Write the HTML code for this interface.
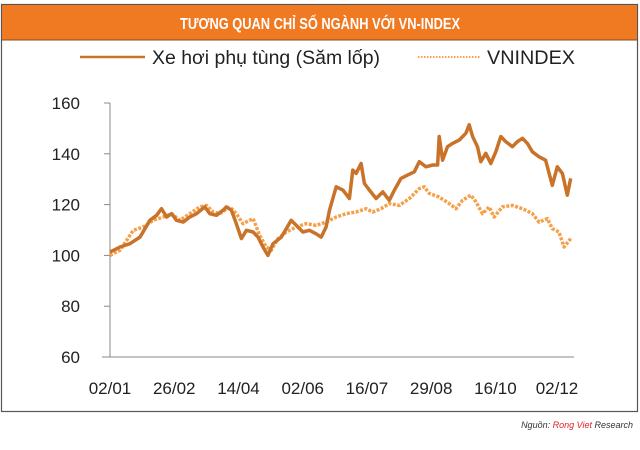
<!DOCTYPE html>
<html><head><meta charset="utf-8"><style>
body{margin:0;background:#fff;}
#wrap{position:relative;width:640px;height:445px;background:#fff;font-family:"Liberation Sans",sans-serif;}
</style></head><body>
<div id="wrap">
<svg id="chart" width="640" height="445" viewBox="0 0 640 445">
  <rect x="1.5" y="4.5" width="636" height="407" fill="#fff" stroke="#555" stroke-width="1.2"/>
  <rect x="2" y="5" width="635" height="35" fill="#f07a22"/>
  <line x1="2" y1="40" x2="637" y2="40" stroke="#8a4a1a" stroke-width="1"/>
  <text x="320" y="29" text-anchor="middle" font-size="16" font-weight="bold" fill="#fff" font-family="Liberation Sans Narrow, Liberation Sans, sans-serif" textLength="280" lengthAdjust="spacingAndGlyphs">TƯƠNG QUAN CHỈ SỐ NGÀNH VỚI VN-INDEX</text>
  <g>
    <line x1="80" y1="57" x2="145" y2="57" stroke="#c9732a" stroke-width="2.5"/>
    <text x="152" y="64" font-size="19" fill="#222" textLength="228" lengthAdjust="spacingAndGlyphs">Xe hơi phụ tùng (Săm lốp)</text>
    <line x1="418" y1="57" x2="480" y2="57" stroke="#f5a04a" stroke-width="2" stroke-dasharray="1.5 1.5"/>
    <text x="487" y="64" font-size="19" fill="#222" textLength="88" lengthAdjust="spacingAndGlyphs">VNINDEX</text>
  </g>
  <g id="axes"></g>
  <g id="series"></g>
  <text x="633" y="428" text-anchor="end" font-size="9" font-style="italic" fill="#333">Nguồn: <tspan fill="#e31e24">Rong Viet</tspan> Research</text>
</svg>
</div>
<script>
const yTicks=[60,80,100,120,140,160];
const xTickLabels=["02/01","26/02","14/04","02/06","16/07","29/08","16/10","02/12"];
const xTickDays=[0,48,96,144,192,240,288,334];
const sectorDays=[0,7.5,14.9,22.4,29.8,34.8,38.5,42.3,46,49.7,54.7,59.6,64.6,70.8,74.6,79.5,84.5,87,90.7,94.4,98.2,101.9,106.9,110.6,114.3,118,121.8,128,131.7,135.4,139.2,144.1,149.1,154,157.8,161.5,164,169,174,178.9,181.4,183.9,187.6,190.1,193.8,198.8,203.8,208.7,212.5,217.4,222.4,227.4,231.1,236.1,241.1,244.8,246,248.5,252.2,256,260.9,265.9,268.4,270.9,274.6,277.1,280.8,284.5,288.3,292,295.7,300.7,304.4,308.2,311.9,315.6,320.6,325.5,330.5,334.2,338,341.7,344.2];
const sectorValues=[101.3,103.3,104.6,107.2,113.8,115.8,118.4,115.1,116.4,113.8,113.1,115.1,116.4,119.1,116.4,115.8,117.8,119.1,117.8,112.5,106.6,109.9,109.2,107.2,103.3,100,104.6,107.2,110.5,113.8,111.8,109.2,109.9,108.5,107.2,111.2,117.8,127,125.7,122.4,133.6,132.3,136.2,128.3,125.7,122.4,125,121.7,125.7,130.3,131.6,132.9,136.9,134.9,135.6,135.6,146.8,137.5,142.8,144.1,145.4,148.1,151.4,146.8,142.8,136.9,140.2,136.2,140.8,146.8,144.8,142.8,144.8,146.1,144.1,140.8,138.8,137.5,127.6,134.9,132.3,123.7,130.3];
const vnDays=[0,7.5,17.4,24.9,32.3,39.8,46,52.2,59.6,67.1,72.1,77.1,82,89.5,94.4,99.4,106.9,111.8,116.8,120.5,125.5,131.7,139.2,146.6,154,161.5,169,176.4,183.9,191.4,196.3,202.5,208.7,216.2,223.7,231.1,234.8,238.6,246,253.5,258.5,263.4,269.6,273.4,278.3,283.3,287,293.2,300.7,308.2,315.6,320.6,326.8,330.5,335.5,339.2,344.2];
const vnValues=[100,102,109.9,111.2,113.8,115.1,116.4,113.8,116.4,119.1,119.7,117.1,116.4,119.1,116.4,112.5,114.5,107.9,103.3,102,106.6,109.2,111.2,112.5,111.8,113.1,115.1,116.4,117.1,118.4,117.1,118.4,120.4,119.7,122.4,126.3,127,124.4,123,120.4,118.4,121.7,123.7,121.1,116.4,119.1,115.1,119.1,119.7,118.4,116.4,113.1,114.5,110.5,109.2,103.3,106.6];

const NS="http://www.w3.org/2000/svg";
const X0=110,X1=557,D1=334,Y0=357,Y1=103,V0=60,V1=160;
function xs(d){return X0+(X1-X0)*d/D1;}
function ys(v){return Y0-(Y0-Y1)*(v-V0)/(V1-V0);}
function mk(tag,attrs,parent){const e=document.createElementNS(NS,tag);for(const k in attrs)e.setAttribute(k,attrs[k]);parent.appendChild(e);return e;}
const axes=document.getElementById('axes');
let e=mk('line',{x1:X0,y1:Y1,x2:X0,y2:Y0,stroke:'#888','stroke-width':1},axes);


e=mk('line',{x1:102,y1:Y0,x2:574,y2:Y0,stroke:'#888','stroke-width':1},axes);


yTicks.forEach(v=>{
  if(v>V0){const t=mk('line',{x1:X0-6,y1:ys(v),x2:X0,y2:ys(v),stroke:'#888','stroke-width':1},axes);
  
  }
  const l=mk('text',{x:80,y:ys(v)+6,'text-anchor':'end','font-size':17,fill:'#222'},axes);
  l.textContent=v;
  
  
});
xTickLabels.forEach((s,i)=>{
  const l=mk('text',{x:xs(xTickDays[i]),y:394,'text-anchor':'middle','font-size':17,fill:'#222'},axes);
  l.textContent=s;
  
  
});
const ser=document.getElementById('series');
function pts(d,v){return d.map((x,i)=>xs(x).toFixed(1)+','+ys(v[i]).toFixed(1)).join(' ');}
const vn=mk('polyline',{points:pts(vnDays,vnValues),fill:'none',stroke:'#f5a04a','stroke-width':3.5,'stroke-dasharray':'3 1.5','stroke-linejoin':'round'},ser);


const sec=mk('polyline',{points:pts(sectorDays,sectorValues),fill:'none',stroke:'#c9732a','stroke-width':3.5,'stroke-linejoin':'round'},ser);


</script>
</body></html>
